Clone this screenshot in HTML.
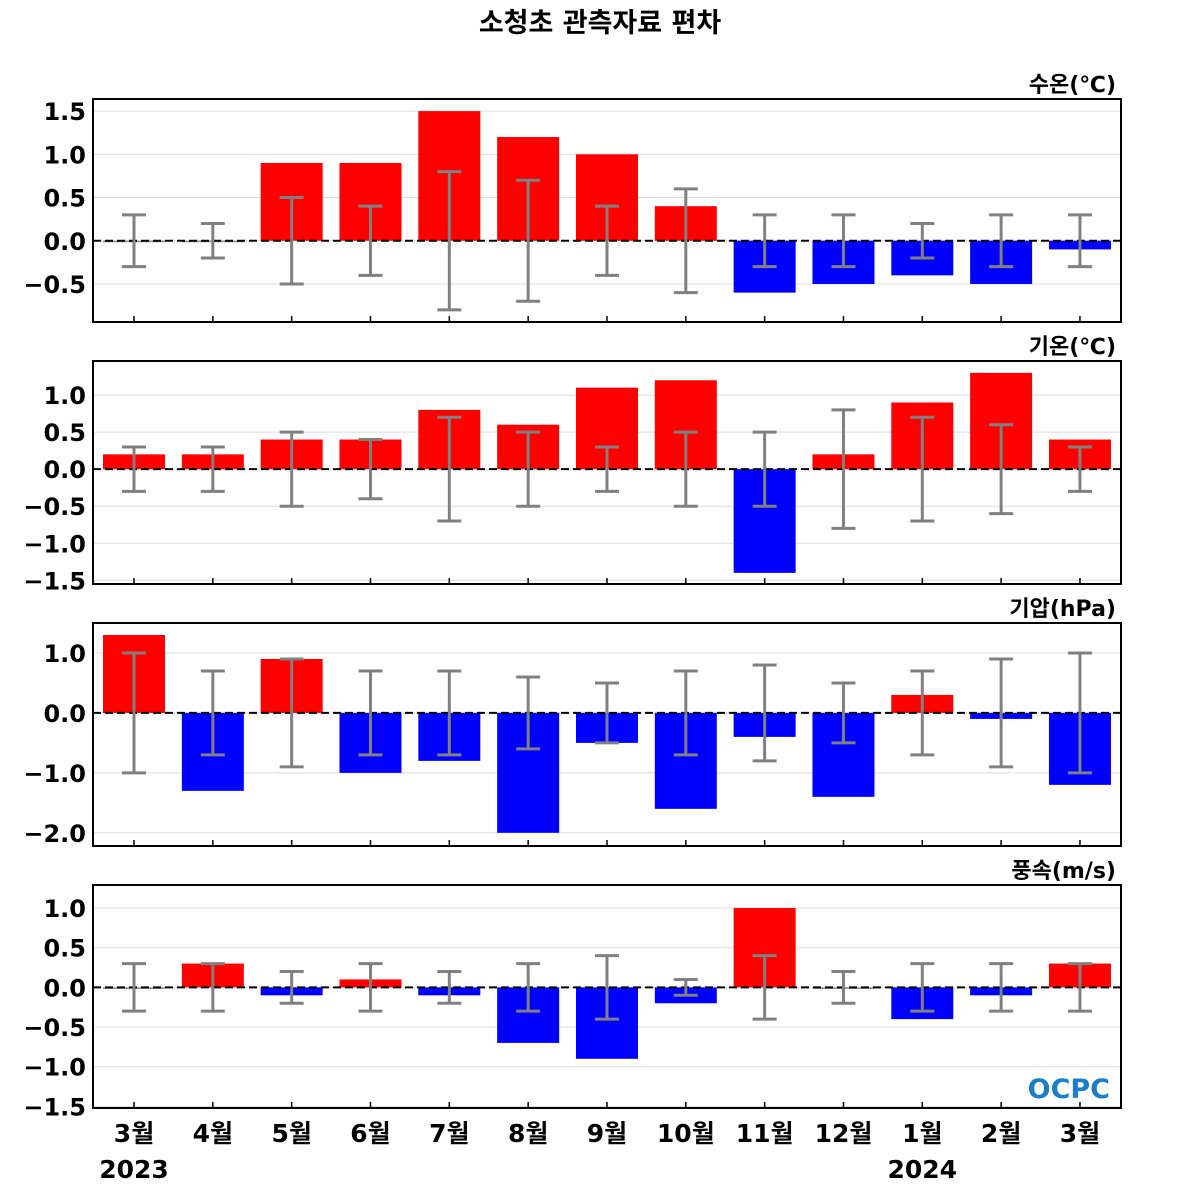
<!DOCTYPE html>
<html><head><meta charset="utf-8"><style>
body{margin:0;background:#fff;}
svg{display:block;font-family:"DejaVu Sans","Noto Sans CJK KR",sans-serif;}
</style></head><body>
<svg id="c" width="1200" height="1200">
<text x="600" y="32" text-anchor="middle" font-size="27" font-weight="bold">소청초 관측자료 편차</text>
</svg>
<script>
const categories=["3월","4월","5월","6월","7월","8월","9월","10월","11월","12월","1월","2월","3월"];
const sstVals=[0,0,0.9,0.9,1.5,1.2,1.0,0.4,-0.6,-0.5,-0.4,-0.5,-0.1];
const sstErr=[0.3,0.2,0.5,0.4,0.8,0.7,0.4,0.6,0.3,0.3,0.2,0.3,0.3];
const airVals=[0.2,0.2,0.4,0.4,0.8,0.6,1.1,1.2,-1.4,0.2,0.9,1.3,0.4];
const airErr=[0.3,0.3,0.5,0.4,0.7,0.5,0.3,0.5,0.5,0.8,0.7,0.6,0.3];
const presVals=[1.3,-1.3,0.9,-1.0,-0.8,-2.0,-0.5,-1.6,-0.4,-1.4,0.3,-0.1,-1.2];
const presErr=[1.0,0.7,0.9,0.7,0.7,0.6,0.5,0.7,0.8,0.5,0.7,0.9,1.0];
const windVals=[0,0.3,-0.1,0.1,-0.1,-0.7,-0.9,-0.2,1.0,0,-0.4,-0.1,0.3];
const windErr=[0.3,0.3,0.2,0.3,0.2,0.3,0.4,0.1,0.4,0.2,0.3,0.3,0.3];
const sstTicks=[1.5,1.0,0.5,0.0,-0.5];
const airTicks=[1.0,0.5,0.0,-0.5,-1.0,-1.5];
const presTicks=[1.0,0.0,-1.0,-2.0];
const windTicks=[1.0,0.5,0.0,-0.5,-1.0,-1.5];

const svg=document.getElementById('c');
const NS='http://www.w3.org/2000/svg';
function mk(t,a,p){const e=document.createElementNS(NS,t);for(const k in a)e.setAttribute(k,a[k]);(p||svg).appendChild(e);return e;}
const X0=93,X1=1121;
function xs(i){return 134+i*78.83;}
const panels=[
 {name:'sst',title:'수온(℃)',vals:sstVals,err:sstErr,ticks:sstTicks,top:99,bot:322,ymax:1.64,ymin:-0.94},
 {name:'air',title:'기온(℃)',vals:airVals,err:airErr,ticks:airTicks,top:361,bot:584,ymax:1.46,ymin:-1.55},
 {name:'pres',title:'기압(hPa)',vals:presVals,err:presErr,ticks:presTicks,top:623,bot:846,ymax:1.5,ymin:-2.22},
 {name:'wind',title:'풍속(m/s)',vals:windVals,err:windErr,ticks:windTicks,top:885,bot:1108,ymax:1.29,ymin:-1.52}
];
panels.forEach(p=>{
 const g=mk('g',{});
 
 
 const ys=v=>p.top+(p.ymax-v)/(p.ymax-p.ymin)*(p.bot-p.top);
 p.ticks.forEach(t=>{
  const gl=mk('line',{x1:X0,x2:X1,y1:ys(t),y2:ys(t),stroke:'#dcdcdc','stroke-width':1},g);
  
  
  const tl=mk('text',{x:86,y:ys(t)+9,'text-anchor':'end','font-size':24,'font-weight':'bold'},g);
  tl.textContent=(t<0?'\u2212':'')+Math.abs(t).toFixed(1);
  
  
 });
 p.vals.forEach((v,i)=>{
  const y0=ys(0),y1=ys(v);
  const b=mk('rect',{x:xs(i)-31,width:62,y:Math.min(y0,y1),height:Math.max(Math.abs(y1-y0),1.5),fill:v>0?'#ff0000':(v<0?'#0000ff':'#888')},g);
  
  
 });
 const z=mk('line',{x1:X0,x2:X1,y1:ys(0),y2:ys(0),stroke:'#000','stroke-width':2,'stroke-dasharray':'8,4'},g);
 
 
 p.err.forEach((e,i)=>{
  const x=xs(i),a=ys(e),b=ys(-e);
  const eg=mk('g',{stroke:'#808080','stroke-width':3},g);
  
  
  mk('line',{x1:x,x2:x,y1:a,y2:b},eg);
  mk('line',{x1:x-12,x2:x+12,y1:a,y2:a},eg);
  mk('line',{x1:x-12,x2:x+12,y1:b,y2:b},eg);
  const tk=mk('line',{x1:x,x2:x,y1:p.bot,y2:p.bot-6,stroke:'#000','stroke-width':1.5},g);
  
  
 });
 const fr=mk('rect',{x:X0,y:p.top,width:X1-X0,height:p.bot-p.top,fill:'none',stroke:'#000','stroke-width':2},g);
 
 
 const tt=mk('text',{x:1116,y:p.top-7,'text-anchor':'end','font-size':22,'font-weight':'bold'},g);
 tt.textContent=p.title;
 
 
});
categories.forEach((c,i)=>{
 const t=mk('text',{x:xs(i),y:1142,'text-anchor':'middle','font-size':25,'font-weight':'bold'});
 t.textContent=c;
 
 
});
[[0,'2023'],[10,'2024']].forEach(([i,s])=>{
 const t=mk('text',{x:xs(i),y:1178,'text-anchor':'middle','font-size':25,'font-weight':'bold'});
 t.textContent=s;
 
 
});
const lg=mk('text',{x:1110,y:1098,'text-anchor':'end','font-size':27,'font-weight':'bold',fill:'#1a7fc8'});
lg.textContent='OCPC';


</script>
</body></html>
